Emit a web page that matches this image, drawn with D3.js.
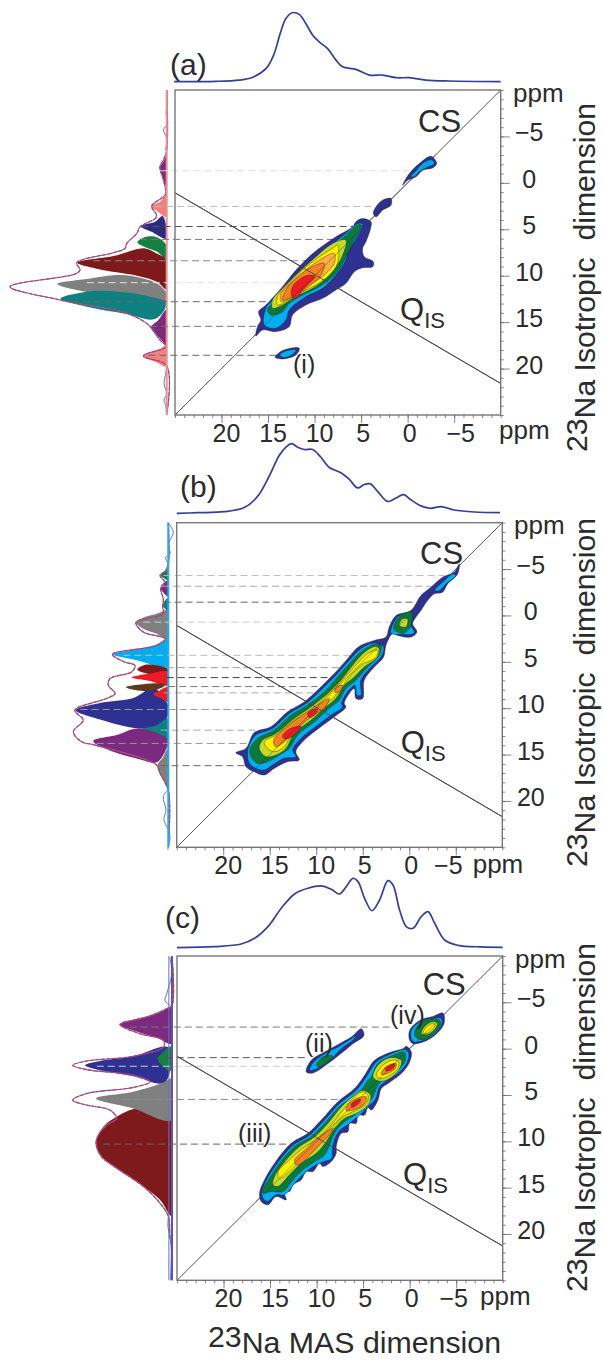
<!DOCTYPE html>
<html>
<head>
<meta charset="utf-8">
<title>23Na MQMAS spectra</title>
<script src="https://cdn.jsdelivr.net/npm/d3@7"></script>
<style>
body { margin: 0; background: #fff; }
text { font-family: "Liberation Sans", Arial, sans-serif; fill: #2b2b2b; white-space: pre; }
</style>
</head>
<body>
<svg id="chart" width="603" height="1361"></svg>
<script>
// axis ticks, ppm
var majorX = [20, 15, 10, 5, 0, -5];
var majorY = [-5, 0, 5, 10, 15, 20];
var minorTicks = d3.range(-10, 26);

// contour fill for each level index
var levelColors = ["#2e3192", "#00aeef", "#0a7a3c", "#c5d92d", "#fff200", "#fbb040", "#f58220", "#ed1c24"];

// 1D projection on top: [MAS ppm, intensity]
var topA = [[25.1,0],[20.6,0.5],[18.1,2.4],[16.7,6.2],[15.2,19.2],[14.4,38.5],[13.7,69.7],[13.1,91.3],[12.4,100],[11.65,97.6],[10.93,84],[10.2,67.3],[9.5,57.7],[8.6,48],[7.7,31.3],[7,21.6],[5.56,17.8],[4.1,9.6],[2.69,9.6],[1.25,5.8],[-0.18,5.8],[-1.97,2.4],[-4.48,1],[-10,0]];
var topB = [[25,-1],[22.76,0],[19.89,1.5],[17.74,7.4],[16.31,23.6],[15.05,53.2],[13.98,82.8],[13.26,95],[12.65,100],[12,95],[11.29,91.6],[10.39,91.6],[9.5,80.3],[8.6,65.5],[7.35,58],[6.45,48.3],[5.55,35.9],[4.84,40.8],[4.19,41.8],[3.41,31],[2.33,16.3],[1.43,21.2],[0.61,26.1],[-0.18,18.7],[-1.25,9.9],[-2.33,6.4],[-3.41,8.9],[-4.84,3.9],[-6.99,1],[-9.75,0]];
var topC = [[25,-0.5],[21,1],[18.1,4.8],[16.67,13],[15.23,30],[13.8,56.5],[12.37,77.3],[10.93,85.5],[9.5,88.9],[8.42,84],[7.53,77.3],[6.81,88],[6.09,100],[5.55,95.2],[4.84,71],[4.05,53],[3.23,68.6],[2.33,96.6],[1.79,90.3],[1.08,54],[0.36,30],[-0.36,27.5],[-1.25,44.4],[-1.97,51.7],[-2.69,34.8],[-3.76,10.6],[-5.2,2.9],[-7.71,0.5],[-10,0]];

// fitted envelope on the left: [intensity, isotropic ppm]
var fitA = [[0,-10],[0,-3.5],[2.1,-2.44],[4.3,-1.72],[2.1,-0.29],[0.6,0.79],[1.1,1.33],[9.6,2.51],[6.4,3.48],[7.4,3.84],[17,4.73],[19.1,5.45],[25.5,6.52],[26.6,7.06],[34,7.53],[57.4,8.6],[55.3,9.39],[58.5,9.82],[100,11.18],[68,12.62],[25.5,14.05],[12.8,15.13],[9.6,15.66],[4.3,16.92],[0.4,17.63],[14.9,18.64],[0,19.71],[0,25]];
var fitB = [[0,-10],[0,-5.56],[1.7,-4.84],[5.3,-4.3],[2.1,-3.58],[4.9,-2.87],[3.2,-1.79],[3.6,-0.9],[3.2,-0.18],[20.6,0.72],[16,1.79],[2.1,2.51],[7.4,3.23],[35.7,4.19],[27.9,5.02],[21.3,5.38],[23.4,6.09],[37.2,6.81],[38.3,7.53],[34,8.42],[39.4,8.96],[59.6,10.22],[54.3,11.29],[60.6,12.54],[55.3,13.62],[46.8,13.98],[7.4,16.13],[5.3,17.03],[0,18.82],[0,25]];
var fitC = [[0,-10],[0,-4.66],[3.4,-4.3],[16.2,-3.41],[33.2,-2.62],[20.4,-1.61],[5.5,-0.9],[5.5,-0.18],[24.7,0.82],[54.5,1.33],[63.4,1.79],[54.5,2.26],[24.7,2.87],[14,3.58],[24.7,4.19],[54.5,4.84],[63.4,5.56],[54.5,6.09],[39.6,6.63],[35.3,7.53],[41.7,8.24],[47,9.32],[48.5,10.22],[45,11.65],[35.3,12.9],[18.3,14.87],[7.7,16.67],[2.3,18.1],[1.3,20.25],[0,21.68],[0,25]];

// noisy experimental trace where no component sits
var noiseA = [[[0,-10],[-0.6,-8.6],[0.4,-7.5],[-0.6,-6.4],[2.1,-5.7],[0,-4.8],[0.8,-3.5]],[[0,19.8],[0.6,20.5],[1.7,21.6],[0,22.7],[1.7,23.4],[0.6,24],[0,25]]];
var noiseB = [[[0,-10],[-3.2,-8.96],[0,-7.71],[-1.1,-6.63],[1.7,-6.27],[0,-5.56]],[[0,18.8],[3.2,19.53],[1.5,20.97],[2.8,22.04],[0,23.12],[-1.1,24],[0.4,25.27]]];
var noiseC = [[[1.3,-9.86],[0.2,-8.06],[3.4,-5.91],[4.5,-5.2],[1.3,-4.66]],[[2.3,18.1],[2.6,19.2],[1.3,20.25],[0.5,21.7],[1,25]],[[2,-10],[2,25]]];

// deconvolved components on the left, painted in this order
var compsA = [
  [[0,-2.97],[2.1,-2.26],[4.3,-1.65],[2.6,-0.65],[0.4,0.36]],
  [[0.4,1.33],[4.3,2.04],[10,2.51],[6.4,3.01],[0.4,3.66]],
  [[2.6,3.58],[7.4,4.19],[16.6,4.66],[9.6,5.27],[0.4,5.99]],
  [[0.6,6.6],[7.4,5.8],[15,5.9],[18.7,6.4],[12.8,7],[6.4,7.4],[0.4,8.14]],
  [[0,8.32],[6.4,7.6],[13.8,7.06],[34,7.89],[57,8.6],[42.6,9.32],[21,9.93],[6.4,10.65],[0,11.47]],
  [[0,11.9],[6.4,10.82],[15,10.29],[30,9.93],[51,10.36],[69.8,10.9],[46.8,11.9],[21,12.44],[0,12.9]],
  [[0.4,12.8],[10.6,12.26],[25.5,11.8],[46.8,11.65],[67.7,12.47],[51,13.33],[25.5,14.12],[8.5,14.7],[2.1,13.87],[0.4,13.15]],
  [[0.4,13.69],[5.3,14.77],[10,15.56],[4.3,16.74],[0,17.45]],
  [[0.6,17.56],[4.3,17.92],[14.9,18.64],[6.4,19.35],[0.4,19.78]]
];
var compColorsA = ["#7b2a7f", "#f58080", "#2b2c7c", "#158040", "#7f1a1c", "#808080", "#0e8080", "#7b2a7f", "#f58080"];

var compsB = [
  [[0,-5.02],[2.1,-4.73],[4.9,-4.3],[2.1,-3.94],[0,-3.76]],
  [[0,-3.76],[3.2,-3.48],[4.9,-2.97],[2.8,-2.4],[0,-2.04]],
  [[0,-1.9],[2.1,-1.61],[3.6,-1.08],[2.1,-0.72],[0,-0.36]],
  [[0,-0.54],[7.4,-0.18],[16,0.25],[20.6,0.72],[16,1.43],[7.4,1.97],[2.1,2.51],[0,2.69]],
  [[0,2.51],[7.4,3.12],[22.3,3.69],[35.5,4.19],[20.2,4.84],[7.4,5.48],[0,5.91]],
  [[0,14.34],[3.8,15.41],[7,16.2],[3.2,17.74],[0,18.8]],
  [[0,5.84],[13.8,5.3],[19.8,5.84],[13.8,6.27],[0,6.52]],
  [[0,6.09],[11.7,6.27],[23.4,6.7],[11.7,7.06],[0,7.53]],
  [[0,9.68],[5.3,8.6],[8.5,7.71],[22.3,8.89],[43.6,9.43],[59,10.22],[43.6,11.22],[19,12.19],[7.4,12],[1.1,11.11]],
  [[0,7.71],[5.3,8.06],[9.6,8.49],[4.3,8.96],[0,9.32]],
  [[2.1,7.42],[16,7.42],[27,7.74],[16,8.14],[3.2,7.71]],
  [[0,11.11],[7.4,11.83],[17,12.29],[7.4,13],[0,13.8]],
  [[0,13.44],[19,12.19],[33,12.9],[47.9,13.55],[35.1,14.7],[18,15.52],[7.4,15.84],[1.1,14.34]]
];
var compColorsB = ["#158040", "#7b2a7f", "#0e8080", "#808080", "#00aeef", "#808080", "#7f1a1c", "#ed1c24", "#2e3192", "#ed1c24", "#5f3a1a", "#0e8080", "#7b2a7f"];

var compsC = [
  [[0,-4.48],[9.8,-3.76],[24.7,-3.12],[33.2,-2.62],[24.7,-1.97],[9.8,-1.18],[0,-0.54]],
  [[2.3,-0.11],[24.7,0.82],[46,1.33],[55.5,1.79],[46,2.33],[24.7,2.97],[4.5,3.66]],
  [[0,7.89],[3.4,7.17],[14,6.63],[23.6,6.49],[35.3,7.35],[43.8,8.42],[48.5,10.22],[45,11.65],[35.3,12.9],[18.3,14.87],[7.7,16.31],[0,18.1]],
  [[0,3.23],[5.5,3.66],[24.7,4.66],[48.5,5.38],[24.7,6.45],[0,7.71]],
  [[0.9,-0.25],[5.5,0.36],[9.1,1.08],[5.5,1.97],[0.9,2.4]]
];
var compColorsC = ["#7b2a7f", "#2e3192", "#7f1a1c", "#808080", "#158040"];

// dashed guides: [isotropic ppm, intensity where it starts, MAS ppm where it ends]
var guidesA = [[-1.3,4,-0.18],[2.54,7.4,3.76],[4.7,16,5.56],[6.09,17,7.71],[8.39,47,10.2],[10.75,51,11.83],[12.8,60.6,13.44],[15.45,10.6,15.95],[18.57,11.7,13.98]];
var guideColorsA = ["#ddd", "#bbb", "#555", "#777", "#888", "#e2e2e2", "#666", "#777", "#666"];
var guidesB = [[-4.3,3,-3.76],[-3.15,4,-2.33],[-1.43,3,-0.54],[0.72,16,1.97],[4.3,28.7,5.2],[5.63,1,6.99],[6.7,1,8.78],[7.67,0,9.86],[8.35,3,10.2],[10.14,56,12],[12.37,5,14.87],[13.8,45.7,17],[16.2,5,17.4]];
var guideColorsB = ["#bbb", "#aaa", "#666", "#ccc", "#bbb", "#999", "#444", "#777", "#aaa", "#999", "#aaa", "#999", "#666"];
var guidesC = [[-2.33,27,2.15],[0.97,4,10.9],[1.9,48,4.5],[5.48,46,7.5],[10.3,44,12.7]];
var guideColorsC = ["#777", "#555", "#ccc", "#888", "#666"];

// QIS line, isotropic ppm at the left and right frame edges
var qisA = [[25, 1.07], [-10, 21.6]];
var qisB = [[25, 1.07], [-10, 21.7]];
var qisC = [[25, 0.82], [-10, 21.3]];

// contours: [level, [[MAS ppm, isotropic ppm], ...]]
var contoursA = [
  [0,[[0.54,0.25],[-0.18,-1],[-1.25,-2.08],[-2.51,-2.87],[-3.12,-2.08],[-2.69,-1.61],[-1.61,-1.36],[-0.9,-0.65],[0,-0.29]]],
  [1,[[-0.36,-0.72],[-0.9,-1.29],[-1.61,-2.08],[-2.51,-2.51],[-2.87,-2.08],[-2.15,-1.72],[-1.25,-1.18],[-0.72,-0.65]]],
  [0,[[3.69,3.3],[3.4,2.58],[2.69,1.86],[1.79,1.68],[1.79,2.4],[2.69,2.94],[3.4,3.66]]],
  [0,[[14.23,18.78],[13.44,18.06],[11.65,17.81],[12,18.53],[13.44,18.96]]],
  [1,[[13.73,18.53],[13.08,18.1],[12,17.99],[12.37,18.46],[13.26,18.82]]],
  [0,[[4.84,3.84],[3.94,4.19],[3.94,4.73],[4.48,6.34],[4.84,7.06],[4.66,7.96],[3.69,8.49],[3.76,9.03],[4.84,9.14],[5.73,9.57],[6.63,10.82],[7.71,11.54],[9.14,12.44],[10.93,13.15],[12.37,14.23],[12.72,15.48],[14.16,16.02],[15.59,15.84],[16.3,16.49],[16.13,15.48],[15.77,14.77],[16.02,13.87],[15.23,13.15],[13.44,11.18],[12,9.39],[10.2,7.6],[7.7,5.8],[5.9,4.73],[5.56,4.19]]],
  [1,[[4.84,4.44],[5.38,5.81],[6.27,7.24],[6.81,8.67],[7.71,9.93],[9.14,11.36],[10.93,12.26],[12.72,13.69],[13.08,14.77],[14.16,15.66],[15.41,15.3],[15.23,13.5],[14.3,12.4],[12.5,10.6],[11,9],[9.2,7.4],[7,5.75],[5.4,4.4]]],
  [2,[[4.95,4.55],[5.91,6.52],[6.63,7.96],[7.17,9.03],[8.06,10.11],[9.5,11.18],[11.29,12.08],[12.72,12.97],[13.44,13.87],[14.7,14.23],[15.05,13.69],[14.16,12.62],[12.37,10.82],[10.93,9.21],[9.14,7.6],[7,5.99],[5.38,4.55]]],
  [3,[[6.63,6.16],[7.06,7.96],[7.71,9.03],[8.78,10.29],[10.2,11.36],[12,12.26],[13.44,13.15],[14.52,13.51],[14.52,12.62],[13.08,11],[11.65,9.57],[9.86,7.96],[8.06,6.52]]],
  [4,[[7.53,6.7],[7.53,8.67],[8.42,9.93],[9.86,11],[11.65,11.9],[13.08,12.8],[13.98,13.15],[13.98,12.26],[12.72,10.82],[11.29,9.39],[9.5,7.96],[8.06,7.06]]],
  [5,[[7.89,7.6],[7.89,8.67],[8.78,9.75],[10.2,10.82],[12,12],[13.6,12.8],[13.6,11.9],[12.37,10.65],[10.93,9.39],[9.5,8.32]]],
  [6,[[8.96,8.67],[9.32,9.93],[10.2,10.82],[11.65,11.9],[12.72,12.44],[13.44,12.62],[13.08,11.54],[12,10.29],[10.57,9.21]]],
  [7,[[9.96,10.11],[10.57,10.82],[11.29,11.54],[12,12.44],[12.44,12.26],[12.37,11.18],[11.47,10.29],[10.57,9.93]]]
];

var contoursB = [
  [0,[[-5.38,-5.56],[-5.2,-4.48],[-4.12,-3.4],[-3.58,-2.51],[-2.69,-2.33],[-1.97,-1.61],[-1.25,-0.54],[-0.72,0.18],[-0.36,0.9],[-0.82,1.79],[-0.18,2.33],[1.25,2.15],[1.79,1.97],[2.51,3.23],[2.76,4.48],[3.76,5.56],[4.84,6.99],[5.02,8.96],[5.73,8.96],[5.91,7.89],[6.45,8.42],[6.99,9.5],[6.81,9.86],[8.06,10.93],[9.5,12],[11.29,13.44],[12.19,14.7],[11.83,15.59],[13.08,15.77],[14.52,16.49],[15.59,17.2],[16.67,16.85],[17.56,16.31],[17.92,15.23],[18.64,14.8],[17.56,14.34],[16.67,12.65],[14.87,12],[13.08,10.39],[11.29,9.32],[9.68,7.89],[8.06,6.27],[6.63,4.66],[5.38,3.33],[3.76,2.69],[2.51,2.33],[2.15,1.25],[1.43,0],[-0.18,-0.54],[-1.25,-2.15],[-2.33,-3.05],[-3.58,-4.12],[-4.84,-4.66]]],
  [1,[[2.76,3.41],[3.05,4.48],[4.12,5.56],[5.2,6.99],[5.2,8.6],[5.63,8.6],[5.84,7.53],[6.63,8.24],[7.28,9.5],[7.17,9.86],[8.42,10.75],[9.86,11.83],[11.65,13.26],[12.54,14.52],[12.19,15.23],[13.44,15.41],[14.7,16.13],[15.59,16.67],[16.49,16.49],[17.2,15.95],[17.38,14.87],[17.2,13.98],[16.49,12.9],[14.7,12.19],[12.9,10.57],[11.11,9.5],[9.5,8.06],[7.89,6.45],[6.45,4.84],[5.2,3.58],[3.76,2.97]]],
  [1,[[1.97,1.9],[1.25,0.18],[0,-0.25],[-0.18,1.08],[-0.54,1.9],[0.9,2.04]]],
  [1,[[-2.69,-2.69],[-3.58,-3.58],[-4.66,-4.48],[-5.02,-4.3],[-3.94,-3.4],[-3.23,-2.69]]],
  [2,[[3.05,3.23],[3.23,4.3],[4.48,5.56],[5.73,6.99],[6.81,7.89],[7.53,9.14],[8.6,10],[10.2,11.47],[12,12.9],[12.9,14.34],[13.98,15.05],[15.23,15.77],[16.31,15.95],[17.02,15.23],[17.1,14.34],[16.31,13.26],[14.52,12.37],[12.72,10.75],[10.93,9.68],[9.14,8.24],[7.71,6.63],[6.27,5.02],[5.02,3.76],[3.76,3.12]]],
  [2,[[1.68,1.43],[1.08,0.18],[-0.25,-0.36],[-0.11,1.25],[0.54,1.9],[1.25,1.79]]],
  [3,[[3.23,3.58],[3.41,4.48],[4.84,5.56],[6.09,6.81],[6.99,7.53],[7.89,8.96],[9.14,10],[10.57,11.29],[12.37,12.72],[13.26,14.34],[14.34,15.05],[15.41,15.23],[16.13,14.34],[15.77,13.44],[14.34,12.72],[12.37,11.11],[10.57,9.86],[8.78,8.42],[7.35,6.99],[6.09,5.38],[4.84,4],[3.58,3.33]]],
  [3,[[1.08,1.08],[0.72,0.36],[0.18,0.36],[0.36,1.25]]],
  [4,[[3.41,3.76],[3.58,4.48],[5.2,5.38],[6.45,6.63],[7.35,7.89],[8.24,8.96],[9.5,10],[10.93,11.11],[12.54,12.54],[13.44,14.16],[14.52,14.7],[15.23,14.34],[15.59,13.62],[14.34,12.9],[12.37,11.29],[10.57,10.22],[8.78,8.6],[7.35,7.17],[5.91,5.56],[4.48,4.12]]],
  [6,[[8.6,8.96],[9.14,10],[10.57,10.93],[12.37,12.54],[13.44,13.62],[14.34,14.16],[14.59,13.44],[13.8,12.54],[12,11.11],[10.2,9.86]]],
  [6,[[7.17,7.53],[7.35,8.06],[7.99,8.32],[7.89,7.78]]],
  [7,[[11.65,11.94],[12.19,12.72],[13.26,13.33],[13.62,13.08],[13.08,12.37],[12.19,12]]],
  [7,[[9.86,10.14],[10.2,10.75],[10.75,11],[10.93,10.57],[10.39,10.14]]]
];

var contoursC = [
  [0,[[11.11,2.51],[10.57,1.25],[9.14,0.36],[7.53,-0.54],[6.27,-1.25],[5.2,-2.15],[4.91,-1.43],[6.09,-0.54],[7.17,0.36],[8.78,1.61],[10.39,2.62]]],
  [1,[[10.75,2.33],[10.39,1.54],[9.14,0.54],[7.71,-0.18],[6.45,-0.97],[5.73,-1.43],[6.2,-0.82],[7.35,0],[8.78,1.43],[10.2,2.26]]],
  [2,[[10.04,1.79],[9.32,0.9],[8.32,0.79],[8.96,1.54],[9.68,1.97]]],
  [0,[[0,-0.9],[0,-1.97],[-1.08,-3.05],[-2.51,-3.48],[-3.58,-3.84],[-3.69,-2.69],[-2.69,-1.43],[-1.43,-0.72],[-0.36,-0.54]]],
  [1,[[-0.18,-1.08],[-0.18,-1.97],[-1.08,-2.87],[-2.69,-3.33],[-3.41,-3.23],[-3.41,-2.51],[-2.51,-1.43],[-1.25,-0.82],[-0.47,-0.72]]],
  [2,[[-0.54,-1.43],[-0.9,-2.51],[-2.33,-3.23],[-3.23,-3.05],[-3.23,-2.33],[-2.33,-1.43],[-1.25,-0.97]]],
  [3,[[-1.25,-1.61],[-1.61,-2.4],[-2.51,-2.94],[-2.97,-2.76],[-2.76,-2.15],[-1.97,-1.54]]],
  [4,[[-1.43,-1.68],[-1.79,-2.33],[-2.62,-2.76],[-2.69,-2.4],[-1.9,-1.68]]],
  [0,[[0.36,-0.25],[-0.18,0.36],[0,1.43],[0.9,2.69],[2.33,3.76],[3.05,4.3],[3.41,5.56],[4.12,6.63],[4.48,6.34],[4.84,7.17],[5.55,7.17],[5.73,8.06],[6.45,8.06],[6.63,8.96],[7.35,9.14],[7.89,10.57],[7.89,11.29],[8.42,12.19],[9.32,12.72],[9.68,12.37],[10.39,13.26],[11.11,13.26],[11.65,14.16],[12.54,14.7],[12.9,15.41],[13.62,15.23],[13.26,16.31],[14.34,15.95],[15.23,16.85],[15.95,16.49],[16.13,15.59],[15.59,14.16],[14.52,12.37],[12.72,10.22],[10.93,9.14],[9.5,7.71],[7.71,5.73],[5.91,4.3],[4.84,2.87],[3.76,1.25],[1.97,0.36],[0.72,0]]],
  [1,[[0.47,0.11],[0.11,0.47],[0.25,1.43],[1.08,2.51],[2.51,3.49],[3.23,4.12],[3.69,5.48],[4.41,6.2],[5.48,7.28],[6.56,8.14],[7.64,8.96],[8.24,10.39],[8.42,11.9],[8.96,12.11],[10.04,12.54],[11.29,13.44],[12.19,14.34],[13.44,15.77],[14.34,15.77],[15.3,16.49],[15.77,16.13],[15.88,15.41],[15.41,14.23],[14.34,12.54],[12.54,10.43],[10.75,9.34],[9.32,7.89],[7.53,5.91],[5.73,4.48],[4.66,3.05],[3.58,1.43],[1.97,0.54]]],
  [2,[[0.61,0.36],[0.47,1.25],[1.43,2.44],[2.87,3.35],[3.41,3.94],[4.05,5.38],[4.84,6.09],[5.91,7.17],[6.99,7.89],[7.99,8.96],[8.6,10.39],[9.14,11.47],[10.2,12.19],[11.47,13.08],[12.37,13.98],[13.62,15.41],[14.87,15.41],[15.77,15.59],[15.59,14.87],[15.05,13.98],[14.09,12.54],[12.37,10.57],[10.57,9.5],[9.14,8.06],[7.35,6.09],[5.55,4.91],[4.48,3.41],[4.12,3.05],[3.41,1.61],[1.79,0.72]]],
  [3,[[0.9,1.25],[1.08,2.15],[2.15,3.23],[3.23,3.51],[3.94,3.05],[3.41,1.79],[2.15,0.97]]],
  [3,[[4.19,5.02],[4.48,6.09],[5.73,6.99],[6.99,7.53],[8.06,8.6],[8.96,10.04],[10.04,11.29],[11.65,12.37],[12.9,13.62],[14.16,14.87],[14.7,14.7],[14.52,13.8],[13.26,12],[11.83,10.57],[10.2,9.5],[8.78,8.06],[7.35,6.27],[5.91,5.02],[5.02,4.48]]],
  [4,[[1.18,1.43],[1.33,2.22],[2.33,2.97],[3.12,3.23],[3.58,2.87],[3.05,1.97],[1.97,1.25]]],
  [4,[[4.48,5.02],[4.66,5.91],[5.91,6.7],[7.17,7.35],[8.24,8.42],[9.32,9.86],[10.39,11.11],[11.65,12],[12.9,13.26],[14,14],[14.12,13.26],[12.9,12],[11.47,10.75],[9.86,9.68],[8.42,8.24],[6.99,6.45],[5.73,5.02],[5.02,4.66]]],
  [6,[[1.43,1.61],[1.61,2.22],[2.62,2.76],[3.05,2.76],[2.76,2.15],[1.97,1.68]]],
  [6,[[4.66,5.2],[4.84,5.91],[5.91,6.56],[6.81,6.7],[6.63,6.09],[5.73,5.38]]],
  [6,[[8.24,8.6],[8.96,9.68],[10.04,10.75],[11.65,12.37],[12.19,12.54],[12.37,12],[11.29,10.93],[9.68,9.5]]],
  [7,[[1.61,1.68],[1.79,2.15],[2.51,2.4],[2.62,2.15],[2.15,1.79]]],
  [7,[[5.27,5.48],[5.48,5.91],[6.2,6.34],[6.27,5.98],[5.73,5.56]]]
];

// panel geometry and text placement
var panels = [
  { name: "(a)", nameAt: [170, 75], box: [175, 90, 500.7, 415], topBase: 81.7, leftBase: 166.7,
    top: topA, fit: fitA, noise: noiseA, comps: compsA, compColors: compColorsA, guides: guidesA, guideColors: guideColorsA,
    qis: qisA, contours: contoursA, csAt: [418, 132], qisAt: [400, 320], ppmX: [499, 439], ppmY: [513, 102], isoAt: [595, 452], baseColor: "#ef8f8f", minusDx: 6,
    notes: [["(i)", 293, 373]] },
  { name: "(b)", nameAt: [180, 497], box: [176.7, 522.7, 502.3, 847.3], topBase: 512.7, leftBase: 168.3,
    top: topB, fit: fitB, noise: noiseB, comps: compsB, compColors: compColorsB, guides: guidesB, guideColors: guideColorsB,
    qis: qisB, contours: contoursB, csAt: [420, 564], qisAt: [400.7, 753], ppmX: [472.7, 873], ppmY: [514, 534], isoAt: [595, 867], baseColor: "#29abe2", minusDx: -8,
    notes: [] },
  { name: "(c)", nameAt: [165, 928], box: [177, 956, 502.7, 1280.3], topBase: 947.3, leftBase: 172,
    top: topC, fit: fitC, noise: noiseC, comps: compsC, compColors: compColorsC, guides: guidesC, guideColors: guideColorsC,
    qis: qisC, contours: contoursC, csAt: [422.7, 995], qisAt: [403, 1185], ppmX: [480, 1305], ppmY: [515, 968], isoAt: [595, 1292], baseColor: "#6a4fa0", minusDx: -3,
    notes: [["(ii)", 305, 1052], ["(iii)", 238, 1142], ["(iv)", 390, 1024]] }
];

var svg = d3.select("#chart");
var minus = function (d) { return String(d).replace("-", "\u2212"); };

panels.forEach(function (p, idx) {
    var x = d3.scaleLinear().domain([25, -10]).range([p.box[0], p.box[2]]);
    var y = d3.scaleLinear().domain([-10, 25]).range([p.box[1], p.box[3]]);
    var topInt = d3.scaleLinear().domain([0, 100]).range([p.topBase, p.topBase - 69]);
    var leftInt = d3.scaleLinear().domain([0, 100]).range([p.leftBase, p.leftBase - 156.7]);
    var g = svg.append("g").attr("class", "panel");

    // top projection
    var topLine = d3.line().x(function (d) { return x(d[0]); }).y(function (d) { return topInt(d[1]); }).curve(d3.curveCatmullRom);
    g.append("path").attr("d", topLine(p.top)).attr("fill", "none").attr("stroke", "#33409a").attr("stroke-width", 1.7);

    // left projection, fills clipped at the baseline
    var clipId = "left" + idx;
    svg.append("clipPath").attr("id", clipId).append("rect")
        .attr("x", 0).attr("y", p.box[1] - 5).attr("width", p.leftBase).attr("height", p.box[3] - p.box[1] + 10);
    var shape = d3.line().x(function (d) { return leftInt(d[0]); }).y(function (d) { return y(d[1]); }).curve(d3.curveCatmullRomClosed.alpha(0.5));
    var trace = d3.line().x(function (d) { return leftInt(d[0]); }).y(function (d) { return y(d[1]); }).curve(d3.curveCatmullRom.alpha(0.5));
    var fills = g.append("g").attr("clip-path", "url(#" + clipId + ")");
    fills.selectAll("path").data(p.comps).enter().append("path")
        .attr("d", function (d) { return shape(d); })
        .attr("fill", function (d, i) { return p.compColors[i]; });
    g.append("path").attr("d", trace(p.fit)).attr("fill", "none").attr("stroke", "#5a78c8").attr("stroke-width", 1.1);
    g.append("path").attr("d", trace(p.fit)).attr("fill", "none").attr("stroke", "#d8324f").attr("stroke-width", 1.1).attr("stroke-dasharray", "4,1.5");
    p.noise.forEach(function (n) {
        g.append("path").attr("d", trace(n)).attr("fill", "none").attr("stroke", "#5a78c8").attr("stroke-width", 1);
    });
    g.append("line").attr("x1", p.leftBase).attr("x2", p.leftBase).attr("y1", y(-10)).attr("y2", y(25))
        .attr("stroke", p.baseColor).attr("stroke-width", 2);

    // guides run from the left trace to the contour
    g.selectAll("line.guide").data(p.guides).enter().append("line").attr("class", "guide")
        .attr("x1", function (d) { return leftInt(d[1]); })
        .attr("x2", function (d) { return x(d[2]); })
        .attr("y1", function (d) { return y(d[0]); })
        .attr("y2", function (d) { return y(d[0]); })
        .attr("stroke", function (d, i) { return p.guideColors[i]; })
        .attr("stroke-width", 1)
        .attr("stroke-dasharray", "7,4");

    // reference lines
    g.append("line").attr("x1", x(25)).attr("y1", y(25)).attr("x2", x(-10)).attr("y2", y(-10))
        .attr("stroke", "#555").attr("stroke-width", 1);
    g.append("line").attr("x1", x(p.qis[0][0])).attr("y1", y(p.qis[0][1])).attr("x2", x(p.qis[1][0])).attr("y2", y(p.qis[1][1]))
        .attr("stroke", "#555").attr("stroke-width", 1);

    // contours
    var blob = d3.line().x(function (d) { return x(d[0]); }).y(function (d) { return y(d[1]); }).curve(d3.curveCatmullRomClosed.alpha(0.5));
    g.selectAll("path.contour").data(p.contours).enter().append("path").attr("class", "contour")
        .attr("d", function (d) { return blob(d[1]); })
        .attr("fill", function (d) { return levelColors[d[0]]; })
        .attr("stroke", "#1a1a1a")
        .attr("stroke-width", 0.4);

    // diagonal shows faintly through the ridge
    g.append("line").attr("x1", x(16.5)).attr("y1", y(16.5)).attr("x2", x(-3)).attr("y2", y(-3))
        .attr("stroke", "#333").attr("stroke-width", 0.6).attr("opacity", 0.7);
    g.append("line").attr("x1", x(p.qis[0][0])).attr("y1", y(p.qis[0][1])).attr("x2", x(p.qis[1][0])).attr("y2", y(p.qis[1][1]))
        .attr("stroke", "#444").attr("stroke-width", 0.9);

    // frame and axes
    g.append("rect").attr("x", p.box[0]).attr("y", p.box[1])
        .attr("width", p.box[2] - p.box[0]).attr("height", p.box[3] - p.box[1])
        .attr("fill", "none").attr("stroke", "#777").attr("stroke-width", 1.4);
    var bottomMinor = d3.axisBottom(x).tickValues(minorTicks).tickSize(3).tickFormat("");
    var rightMinor = d3.axisRight(y).tickValues(minorTicks).tickSize(3).tickFormat("");
    var bottomMajor = d3.axisBottom(x).tickValues(majorX).tickSize(8).tickFormat(minus);
    var rightMajor = d3.axisRight(y).tickValues(majorY).tickSize(9).tickFormat(minus);
    [bottomMinor, bottomMajor].forEach(function (a) {
        var ax = g.append("g").attr("transform", "translate(0," + p.box[3] + ")").call(a);
        ax.select(".domain").remove();
        ax.selectAll("line").attr("stroke", "#666").attr("stroke-width", 0.8);
        ax.selectAll("text").attr("y", 27).attr("dy", 0).attr("font-size", 25)
            .attr("dx", function (d) { return d === -5 ? p.minusDx : d > 5 ? 4.5 : 1.5; });
    });
    [rightMinor, rightMajor].forEach(function (a) {
        var ax = g.append("g").attr("transform", "translate(" + p.box[2] + ",0)").call(a);
        ax.select(".domain").remove();
        ax.selectAll("line").attr("stroke", "#666").attr("stroke-width", 0.8);
        ax.selectAll("text").attr("x", 28.5).attr("dy", 4.5).attr("font-size", 25).attr("text-anchor", "middle");
    });
    g.append("text").attr("x", p.ppmX[0]).attr("y", p.ppmX[1]).attr("font-size", 26).text("ppm");
    g.append("text").attr("x", p.ppmY[0]).attr("y", p.ppmY[1]).attr("font-size", 26).text("ppm");

    // labels
    g.append("text").attr("x", p.nameAt[0]).attr("y", p.nameAt[1]).attr("font-size", 30).text(p.name);
    g.append("text").attr("x", p.csAt[0]).attr("y", p.csAt[1]).attr("font-size", 31).text("CS");
    var q = g.append("text").attr("x", p.qisAt[0]).attr("y", p.qisAt[1]).attr("font-size", 31);
    q.append("tspan").text("Q");
    q.append("tspan").attr("dy", 8).attr("font-size", 22).text("IS");
    p.notes.forEach(function (n) {
        g.append("text").attr("x", n[1]).attr("y", n[2]).attr("font-size", 25).text(n[0]);
    });
    var iso = g.append("text").attr("transform", "translate(" + p.isoAt[0] + "," + p.isoAt[1] + ") rotate(-90)").attr("font-size", 30.2);
    iso.append("tspan").attr("dy", -8).text("23");
    iso.append("tspan").attr("dy", 8).text("Na Isotropic  dimension");
});

var mas = svg.append("text").attr("x", 208).attr("y", 1353).attr("font-size", 30.3);
mas.append("tspan").attr("dy", -6).text("23");
mas.append("tspan").attr("dy", 6).text("Na MAS dimension");
</script>
</body>
</html>
